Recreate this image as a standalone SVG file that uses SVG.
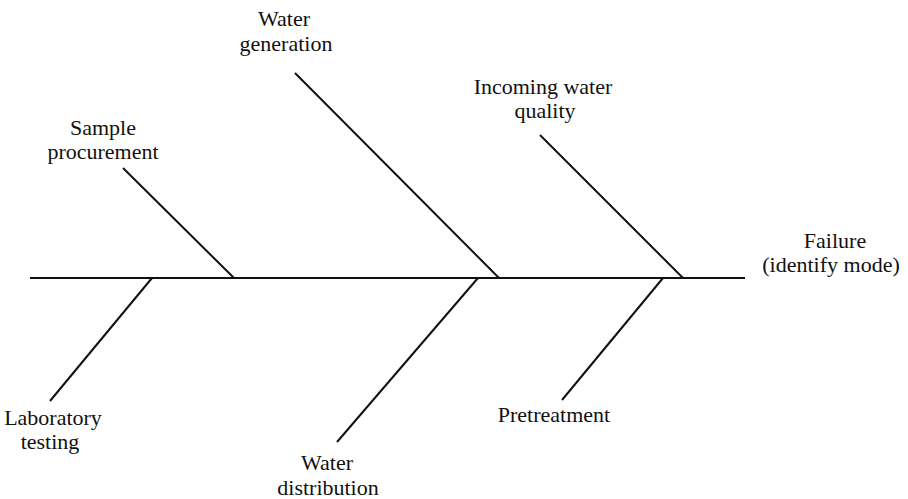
<svg xmlns="http://www.w3.org/2000/svg" width="908" height="499" viewBox="0 0 908 499">
<style>
.t{font-family:"Liberation Serif","Times New Roman",serif;font-size:22px;fill:#111;text-anchor:middle}
.l{stroke:#111;stroke-width:2;fill:none}
</style>
<rect width="908" height="499" fill="#fff"/>
<g id="connectors">
<line class="l" x1="30" y1="278" x2="745" y2="278"/>
<line class="l" x1="123" y1="168" x2="234" y2="278"/>
<line class="l" x1="295" y1="73" x2="499" y2="278"/>
<line class="l" x1="540" y1="135" x2="683" y2="278"/>
<line class="l" x1="152" y1="278" x2="50" y2="401"/>
<line class="l" x1="478" y1="278" x2="337" y2="442"/>
<line class="l" x1="663" y1="278" x2="562" y2="400"/>
</g>
<g id="failure"><text class="t" x="835" y="248">Failure</text><text class="t" x="831" y="272">(identify mode)</text></g>
<g id="sample"><text class="t" x="103" y="135">Sample</text><text class="t" x="103" y="159">procurement</text></g>
<g id="generation"><text class="t" x="284" y="26">Water</text><text class="t" x="286" y="51">generation</text></g>
<g id="incoming"><text class="t" x="543" y="94">Incoming water</text><text class="t" x="545" y="118">quality</text></g>
<g id="lab"><text class="t" x="53" y="425">Laboratory</text><text class="t" x="50" y="449">testing</text></g>
<g id="distribution"><text class="t" x="327" y="470">Water</text><text class="t" x="328" y="495">distribution</text></g>
<g id="pretreatment"><text class="t" x="554" y="422">Pretreatment</text></g>
</svg>
